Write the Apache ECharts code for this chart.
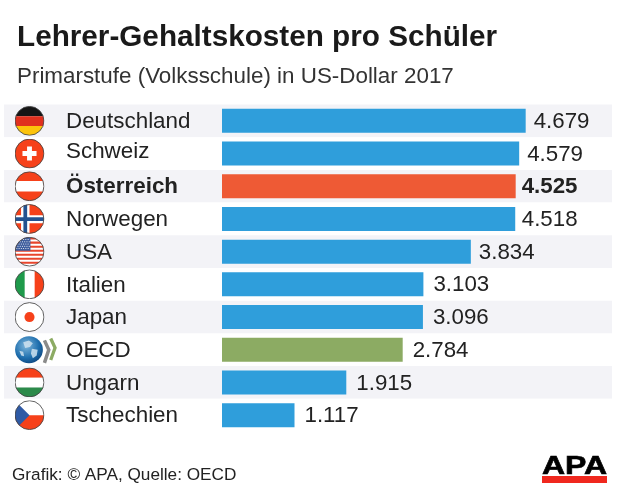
<!DOCTYPE html>
<html><head><meta charset="utf-8">
<style>html,body{margin:0;padding:0;background:#fff}#c{width:620px;height:494px}</style>
<script src="https://cdn.jsdelivr.net/npm/echarts@6/dist/echarts.min.js"></script>
</head><body><div id="c"></div>
<script>
const categories = ['Deutschland','Schweiz','Österreich','Norwegen','USA','Italien','Japan','OECD','Ungarn','Tschechien'];
const values = [4679,4579,4525,4518,3834,3103,3096,2784,1915,1117];
const flagKeys = ['de','ch','at','no','us','it','jp','oecd','hu','cz'];
const BLUE='#2f9edb', RED='#ee5a35', GREEN='#8cab63', INK='#222222';
const barColors = {'Österreich':RED,'OECD':GREEN};

function flag(inner, w){
  w = w||60;
  const s = `<svg xmlns="http://www.w3.org/2000/svg" width="${w*2}" height="64" viewBox="0 0 ${w} 32"><defs><clipPath id="k"><circle cx="16" cy="16" r="15.4"/></clipPath></defs><g clip-path="url(#k)">${inner}</g><circle cx="16" cy="16" r="15.4" fill="none" stroke="#444" stroke-width="0.9"/></svg>`;
  return 'data:image/svg+xml;charset=utf-8,'+encodeURIComponent(s);
}
const R='#f6411a';
let stripes=''; for(let i=0;i<7;i++) stripes+=`<rect x="0" y="${1+i*4.3}" width="32" height="2.15" fill="#e8452c"/>`;
let stars=''; for(let r=0;r<5;r++) for(let c=0;c<6;c++) stars+=`<circle cx="${2.5+c*2.4+(r%2)*1.2}" cy="${3+r*2.4}" r="0.55" fill="#fff"/>`;
const svgs = {
 de:flag(`<rect width="32" height="11" fill="#151515"/><rect y="11" width="32" height="10.5" fill="#e0301e"/><rect y="21.5" width="32" height="11" fill="#fcc30b"/>`,32),
 ch:flag(`<rect width="32" height="32" fill="${R}"/><rect x="13.4" y="8.5" width="5.2" height="15" fill="#fff"/><rect x="8.5" y="13.4" width="15" height="5.2" fill="#fff"/>`,32),
 at:flag(`<rect width="32" height="32" fill="${R}"/><rect y="10.5" width="32" height="11" fill="#fff"/>`,32),
 no:flag(`<rect width="32" height="32" fill="${R}"/><rect x="7" width="9" height="32" fill="#fff"/><rect y="12" width="32" height="8.5" fill="#fff"/><rect x="9.5" width="4" height="32" fill="#24528f"/><rect y="14.2" width="32" height="4" fill="#24528f"/>`,32),
 us:flag(`<rect width="32" height="32" fill="#fff"/>${stripes}<rect width="17" height="15" fill="#3f5e9e"/>${stars}`,32),
 it:flag(`<rect width="11" height="32" fill="#1f9a4b"/><rect x="11" width="10.5" height="32" fill="#fff"/><rect x="21.5" width="11" height="32" fill="${R}"/>`,32),
 jp:flag(`<rect width="32" height="32" fill="#fff"/><circle cx="16" cy="16" r="5.4" fill="${R}"/>`,32),
 hu:flag(`<rect width="32" height="11" fill="${R}"/><rect y="11" width="32" height="10.5" fill="#fff"/><rect y="21.5" width="32" height="11" fill="#2c8a4a"/>`,32),
 cz:flag(`<rect width="32" height="16" fill="#fff"/><rect y="16" width="32" height="16" fill="${R}"/><path d="M0 0L16 16L0 32Z" fill="#2f5aa5"/>`,32)
};
svgs.oecd = 'data:image/svg+xml;charset=utf-8,'+encodeURIComponent(`<svg xmlns="http://www.w3.org/2000/svg" width="88" height="64" viewBox="0 0 44 32"><defs><radialGradient id="g" cx="0.4" cy="0.35" r="0.75"><stop offset="0" stop-color="#7fb7dc"/><stop offset="0.6" stop-color="#1f6fae"/><stop offset="1" stop-color="#0b3f77"/></radialGradient></defs><circle cx="15" cy="16" r="14.4" fill="url(#g)"/><path d="M9 8l6-2 4 3-3 4-5 1zM18 15l6 1-1 6-4 3-2-5zM5 17l4 1 1 5-3-1z" fill="#cfe2ef" opacity="0.85"/><polyline points="31,6 35.5,16 31,30" fill="none" stroke="#8a8a8a" stroke-width="3.6"/><polyline points="37.5,4 42,14 37.5,27" fill="none" stroke="#8cab63" stroke-width="3.4"/></svg>`);

const rich = {
  name:{fontSize:22.4,color:INK,fontFamily:'Liberation Sans',padding:[2,0,0,21.5]},
  nameUp:{fontSize:22.4,color:INK,fontFamily:'Liberation Sans',padding:[0,0,4,21.5]},
  bold:{fontSize:22.4,color:INK,fontWeight:'bold',fontFamily:'Liberation Sans',padding:[2,0,0,21.5]}
};
flagKeys.forEach(k=>{
  rich['f_'+k]={width:k==='oecd'?42.5:30,height:30,backgroundColor:{image:svgs[k]}};
});
rich.name2={...rich.name,padding:[2,0,0,9]};

const axisLabel = {
  show:true, inside:true, margin:10.5, align:'left', interval:0, rich,
  formatter:(v)=>{
    const i=categories.indexOf(v), k=flagKeys[i];
    const st = v==='Österreich'?'bold':v==='Schweiz'?'nameUp':v==='OECD'?'name2':'name';
    return `{f_${k}|}{${st}|${v}}`;
  }
};
const fmt = v => String(v).replace(/\B(?=(\d{3})+$)/g,'.');
const gap = c => c==='Österreich'?6:c==='Norwegen'?6.5:(['Deutschland','Schweiz','USA'].includes(c)?8:10);

const chart = echarts.init(document.getElementById('c'),null,{renderer:'canvas'});
chart.setOption({
  animation:false,
  backgroundColor:'#fff',
  grid:{left:4,top:104.5,width:608,height:327},
  xAxis:{type:'value',min:-3359,max:6009,show:false},
  yAxis:{type:'category',inverse:true,data:categories,
    axisLine:{show:false},axisTick:{show:false},axisLabel,
    splitLine:{show:false},
    splitArea:{show:true,interval:0,areaStyle:{color:['#f3f3f7','#ffffff']}}},
  series:[{type:'bar',barWidth:24,
    data:categories.map((c,i)=>({value:values[i],itemStyle:{color:barColors[c]||BLUE},label:{distance:gap(c)}})),
    label:{show:true,position:'right',fontSize:22.3,color:INK,fontFamily:'Liberation Sans',padding:[2,0,0,0],
      formatter:p=>p.name==='Österreich'?`{b|${fmt(p.value)}}`:fmt(p.value),
      rich:{b:{fontSize:22.3,fontWeight:'bold',color:INK,fontFamily:'Liberation Sans'}}}
  }],
  graphic:[
    {type:'text',left:17,top:23,style:{text:'Lehrer-Gehaltskosten pro Schüler',font:'bold 29.7px "Liberation Sans"',fill:'#1a1a1a'}},
    {type:'text',left:17,top:66,style:{text:'Primarstufe (Volksschule) in US-Dollar 2017',font:'22.4px "Liberation Sans"',fill:'#333'}},
    {type:'text',left:12,top:467,style:{text:'Grafik: © APA, Quelle: OECD',font:'17.2px "Liberation Sans"',fill:'#222'}},
    {type:'text',x:542,y:480,scaleX:1.28,style:{text:'APA',font:'900 25px "Liberation Sans"',fill:'#000',stroke:'#000',lineWidth:0.6,textVerticalAlign:'bottom',verticalAlign:'bottom'}},
    {type:'rect',shape:{x:542,y:476,width:65,height:7},style:{fill:'#f0281e'}}
  ]
});
</script></body></html>
